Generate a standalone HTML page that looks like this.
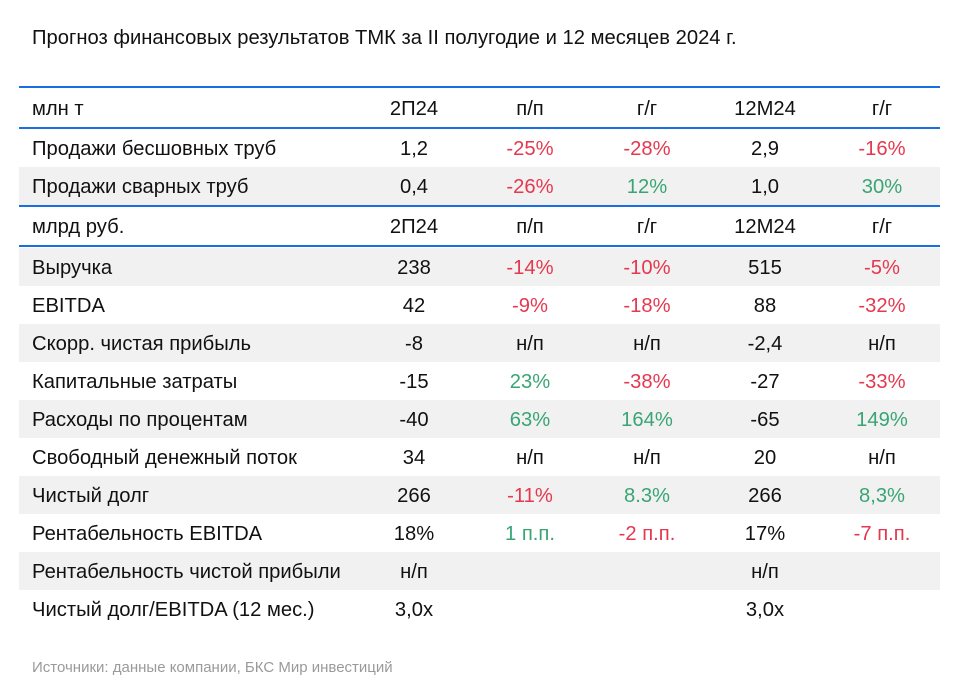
<!DOCTYPE html>
<html><head><meta charset="utf-8"><style>
body{margin:0;width:957px;height:695px;background:#fff;font-family:"Liberation Sans",sans-serif;color:#111;position:relative;overflow:hidden}
.t{position:absolute;left:32px;top:27px;font-size:20.2px}
.s{position:absolute;left:32px;top:659px;font-size:15px;color:#9a9a9a}
.line{position:absolute;left:19px;width:921px;height:2px;background:#1a6fe0}
.row{position:absolute;left:19px;width:921px;font-size:20.2px}
.row.g{background:#f1f1f1}
.row span{position:absolute;top:0;transform:translateX(-50%);white-space:nowrap}
.row span.l{left:13px;transform:none}
.r{color:#e5384f}.gr{color:#3aa574}
</style></head><body>
<div class="t">Прогноз финансовых результатов ТМК за II полугодие и 12 месяцев 2024 г.</div>
<div class="line" style="top:86px"></div>
<div class="line" style="top:127px"></div>
<div class="line" style="top:205px"></div>
<div class="line" style="top:245px"></div>
<div id="rows"></div>
<div class="s">Источники: данные компании, БКС Мир инвестиций</div>
<script>
const cols=[395,511,628,746,863];
const rows=[
[96,41,0,["млн т","2П24","п/п","г/г","12М24","г/г"]],
[129,38,0,["Продажи бесшовных труб","1,2","r-25%","r-28%","2,9","r-16%"]],
[167,38,1,["Продажи сварных труб","0,4","r-26%","g12%","1,0","g30%"]],
[207,38,0,["млрд руб.","2П24","п/п","г/г","12М24","г/г"]],
[248,38,1,["Выручка","238","r-14%","r-10%","515","r-5%"]],
[286,38,0,["EBITDA","42","r-9%","r-18%","88","r-32%"]],
[324,38,1,["Скорр. чистая прибыль","-8","н/п","н/п","-2,4","н/п"]],
[362,38,0,["Капитальные затраты","-15","g23%","r-38%","-27","r-33%"]],
[400,38,1,["Расходы по процентам","-40","g63%","g164%","-65","g149%"]],
[438,38,0,["Свободный денежный поток","34","н/п","н/п","20","н/п"]],
[476,38,1,["Чистый долг","266","r-11%","g8.3%","266","g8,3%"]],
[514,38,0,["Рентабельность EBITDA","18%","g1 п.п.","r-2 п.п.","17%","r-7 п.п."]],
[552,38,1,["Рентабельность чистой прибыли","н/п","","","н/п",""]],
[590,38,0,["Чистый долг/EBITDA (12 мес.)","3,0x","","","3,0x",""]]];
let h="";
for(const [top,ht,g,c] of rows){
 h+=`<div class="row${g?' g':''}" style="top:${top===96?88:top}px;height:${top===96?39:ht}px">`;
 const pad=top===96?10:9;
 h+=`<span class="l" style="top:${pad}px">${c[0]}</span>`;
 for(let i=1;i<6;i++){let v=c[i],cl="";if(v[0]=="r"){cl="r";v=v.slice(1)}else if(v[0]=="g"){cl="gr";v=v.slice(1)}
 h+=`<span class="${cl}" style="left:${cols[i-1]}px;top:${pad}px">${v}</span>`}
 h+="</div>";
}
document.getElementById("rows").innerHTML=h;
</script>
</body></html>
